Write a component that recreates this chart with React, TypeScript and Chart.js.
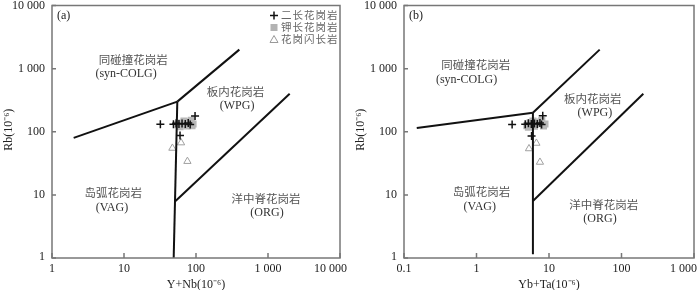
import React, { useEffect, useRef } from "react";
import { Chart, registerables } from "chart.js";
Chart.register(...registerables);

// ---------- shared axis ticks ----------
const yTicks = [1, 10, 100, 1000, 10000];
const yTickLabels = ["1", "10", "100", "1 000", "10 000"];

// ---------- panel (a): Rb vs Y+Nb ----------
const aXTicks = [1, 10, 100, 1000, 10000];
const aXTickLabels = ["1", "10", "100", "1 000", "10 000"];
const aBoundColgVag = [{ x: 2, y: 80 }, { x: 55, y: 300 }];
const aBoundColgWpg = [{ x: 55, y: 300 }, { x: 400, y: 2000 }];
const aBoundVagWpg = [{ x: 55, y: 300 }, { x: 49, y: 1 }];
const aBoundWpgOrg = [{ x: 52, y: 8 }, { x: 2000, y: 400 }];
const aMonzo = [
  { x: 32, y: 132 }, { x: 48.6, y: 132 }, { x: 53, y: 136 }, { x: 58, y: 133 },
  { x: 64, y: 135 }, { x: 71, y: 133 }, { x: 78, y: 137 }, { x: 83, y: 130 },
  { x: 97, y: 178 }, { x: 60, y: 87 },
];
const aKfs = [
  { x: 56, y: 129 }, { x: 62, y: 138 }, { x: 68, y: 148 }, { x: 73, y: 133 },
  { x: 80, y: 143 }, { x: 86, y: 152 }, { x: 91, y: 133 }, { x: 60, y: 120 },
  { x: 75, y: 124 }, { x: 88, y: 125 },
];
const aGrano = [{ x: 47, y: 55 }, { x: 62, y: 67 }, { x: 76, y: 34 }];
const aLabels = [
  { t: "同碰撞花岗岩", x: 13.4, y: 1380, cjk: true },
  { t: "(syn-COLG)", x: 10.7, y: 835, cjk: false },
  { t: "板内花岗岩", x: 354, y: 437, cjk: true },
  { t: "(WPG)", x: 372, y: 255, cjk: false },
  { t: "岛弧花岗岩", x: 7.1, y: 10.7, cjk: true },
  { t: "(VAG)", x: 6.8, y: 6.3, cjk: false },
  { t: "洋中脊花岗岩", x: 938, y: 8.66, cjk: true },
  { t: "(ORG)", x: 968, y: 5.2, cjk: false },
];

// ---------- panel (b): Rb vs Yb+Ta ----------
const bXTicks = [0.1, 1, 10, 100, 1000];
const bXTickLabels = ["0.1", "1", "10", "100", "1 000"];
const bBoundColgVag = [{ x: 0.15, y: 115 }, { x: 6, y: 200 }];
const bBoundColgWpg = [{ x: 6, y: 200 }, { x: 50, y: 2000 }];
const bBoundVagWpg = [{ x: 6, y: 200 }, { x: 6, y: 1.15 }];
const bBoundWpgOrg = [{ x: 6, y: 8 }, { x: 200, y: 400 }];
const bMonzo = [
  { x: 3.1, y: 130 }, { x: 4.7, y: 132 }, { x: 5.2, y: 136 }, { x: 5.7, y: 133 },
  { x: 6.3, y: 135 }, { x: 6.9, y: 133 }, { x: 7.5, y: 137 }, { x: 7.9, y: 130 },
  { x: 8.2, y: 180 }, { x: 5.75, y: 86 },
];
const bKfs = [
  { x: 4.95, y: 125 }, { x: 5.45, y: 138 }, { x: 6.0, y: 148 }, { x: 6.6, y: 133 },
  { x: 7.25, y: 143 }, { x: 7.95, y: 150 }, { x: 8.8, y: 133 }, { x: 5.2, y: 118 },
  { x: 6.3, y: 122 }, { x: 8.4, y: 124 },
];
const bGrano = [{ x: 5.3, y: 54 }, { x: 6.7, y: 66 }, { x: 7.5, y: 33 }];
const bLabels = [
  { t: "同碰撞花岗岩", x: 0.98, y: 1142, cjk: true },
  { t: "(syn-COLG)", x: 0.73, y: 657, cjk: false },
  { t: "板内花岗岩", x: 40, y: 331, cjk: true },
  { t: "(WPG)", x: 43, y: 198, cjk: false },
  { t: "岛弧花岗岩", x: 1.17, y: 11.3, cjk: true },
  { t: "(VAG)", x: 1.11, y: 6.56, cjk: false },
  { t: "洋中脊花岗岩", x: 57, y: 6.98, cjk: true },
  { t: "(ORG)", x: 50.5, y: 4.2, cjk: false },
];

const legendNames = ["二长花岗岩", "钾长花岗岩", "花岗闪长岩"];

const SERIF = '"Liberation Serif", "Noto Sans CJK SC", serif';
const CJK = '"Noto Sans CJK SC", sans-serif';

type PanelCfg = {
  xMin: number; xMax: number;
  xTicks: number[]; xTickLabels: string[];
  bounds: { x: number; y: number }[][];
  monzo: { x: number; y: number }[];
  kfs: { x: number; y: number }[];
  grano: { x: number; y: number }[];
  labels: { t: string; x: number; y: number; cjk: boolean }[];
  tag: string; xTitle: string; legend: boolean;
  padding: { left: number; right: number; top: number; bottom: number };
};

function makeDecor(cfg: PanelCfg) {
  return {
    id: "decor",
    afterDraw(chart: any) {
      const { ctx, chartArea: ca } = chart;
      const W = chart.width;
      const xs = chart.scales.x, ys = chart.scales.y;
      ctx.save();
      // frame
      ctx.strokeStyle = "#777";
      ctx.lineWidth = 1.5;
      ctx.strokeRect(ca.left, ca.top, ca.right - ca.left, ca.bottom - ca.top);
      // ticks (inward)
      ctx.beginPath();
      cfg.xTicks.forEach((v) => {
        const px = xs.getPixelForValue(v);
        ctx.moveTo(px, ca.bottom);
        ctx.lineTo(px, ca.bottom - 5);
      });
      yTicks.forEach((v) => {
        const py = ys.getPixelForValue(v);
        ctx.moveTo(ca.left, py);
        ctx.lineTo(ca.left + 4, py);
      });
      ctx.stroke();
      // tick labels
      ctx.fillStyle = "#222";
      ctx.font = `12px ${SERIF}`;
      ctx.textAlign = "center";
      ctx.textBaseline = "middle";
      cfg.xTicks.forEach((v, i) => {
        const lab = cfg.xTickLabels[i];
        const w = ctx.measureText(lab).width;
        const px = Math.min(xs.getPixelForValue(v), W - 3 - w / 2);
        ctx.fillText(lab, px, ca.bottom + 11);
      });
      ctx.textAlign = "right";
      yTicks.forEach((v, i) => {
        const py = Math.max(ys.getPixelForValue(v), 5.5);
        ctx.fillText(yTickLabels[i], ca.left - 7, Math.min(py, ca.bottom - 1.5));
      });
      // axis titles
      ctx.textAlign = "center";
      ctx.fillText(cfg.xTitle, (ca.left + ca.right) / 2, ca.bottom + 27);
      ctx.save();
      ctx.translate(ca.left - 43, (ca.top + ca.bottom) / 2 - 2);
      ctx.rotate(-Math.PI / 2);
      ctx.fillText("Rb(10⁻⁶)", 0, 0);
      ctx.restore();
      // panel tag
      ctx.textAlign = "left";
      ctx.fillText(cfg.tag, ca.left + 5, ca.top + 10);
      // region labels
      ctx.textAlign = "center";
      cfg.labels.forEach((l) => {
        ctx.fillStyle = l.cjk ? "#555" : "#333";
        ctx.font = l.cjk ? `11.5px ${CJK}` : `12px ${SERIF}`;
        ctx.fillText(l.t, xs.getPixelForValue(l.x), ys.getPixelForValue(l.y));
      });
      // legend
      if (cfg.legend) {
        const lx = ca.right - 66;
        const rows = [ca.top + 10, ca.top + 22, ca.top + 34];
        // plus
        ctx.strokeStyle = "#111";
        ctx.lineWidth = 1.5;
        ctx.beginPath();
        ctx.moveTo(lx - 4, rows[0]); ctx.lineTo(lx + 4, rows[0]);
        ctx.moveTo(lx, rows[0] - 4); ctx.lineTo(lx, rows[0] + 4);
        ctx.stroke();
        // square
        ctx.fillStyle = "#b3b3b3";
        ctx.fillRect(lx - 3.5, rows[1] - 3.5, 7, 7);
        // triangle
        ctx.strokeStyle = "#999";
        ctx.lineWidth = 1;
        ctx.beginPath();
        ctx.moveTo(lx, rows[2] - 4);
        ctx.lineTo(lx + 4, rows[2] + 3);
        ctx.lineTo(lx - 4, rows[2] + 3);
        ctx.closePath();
        ctx.stroke();
        ctx.fillStyle = "#666";
        ctx.font = `10.5px ${CJK}`;
        ctx.letterSpacing = "1px";
        ctx.textAlign = "left";
        legendNames.forEach((n, i) => ctx.fillText(n, lx + 7, rows[i]));
        ctx.letterSpacing = "0px";
      }
      ctx.restore();
    },
  };
}

function Panel({ cfg, left }: { cfg: PanelCfg; left: number }) {
  const ref = useRef<HTMLCanvasElement>(null);
  useEffect(() => {
    const lineDs = cfg.bounds.map((b) => ({
      type: "scatter" as const,
      data: b,
      showLine: true,
      borderColor: "#111",
      borderWidth: 2,
      pointRadius: 0,
      order: 1,
    }));
    const chart = new Chart(ref.current!, {
      type: "scatter",
      data: {
        datasets: [
          {
            data: cfg.monzo, pointStyle: "cross", pointRadius: 4,
            borderColor: "#111", borderWidth: 1.5, order: 0,
          },
          ...lineDs,
          {
            data: cfg.grano, pointStyle: "triangle", pointRadius: 4.2,
            borderColor: "#a0a0a0", backgroundColor: "rgba(0,0,0,0)", borderWidth: 1, order: 2,
          },
          {
            data: cfg.kfs, pointStyle: "rect", pointRadius: 5,
            borderWidth: 0, backgroundColor: "#b8b8b8", order: 3,
          },
        ] as any,
      },
      options: {
        animation: false,
        responsive: false,
        events: [],
        layout: { padding: cfg.padding },
        plugins: { legend: { display: false }, tooltip: { enabled: false } },
        scales: {
          x: { type: "logarithmic", min: cfg.xMin, max: cfg.xMax, display: false },
          y: { type: "logarithmic", min: 1, max: 10000, display: false },
        },
      },
      plugins: [makeDecor(cfg)],
    });
    return () => chart.destroy();
  }, []);
  return (
    <canvas
      ref={ref}
      width={350}
      height={290}
      style={{ position: "absolute", left, top: 0, width: 350, height: 290 }}
    />
  );
}

const cfgA: PanelCfg = {
  xMin: 1, xMax: 10000, xTicks: aXTicks, xTickLabels: aXTickLabels,
  bounds: [aBoundColgVag, aBoundColgWpg, aBoundVagWpg, aBoundWpgOrg],
  monzo: aMonzo, kfs: aKfs, grano: aGrano, labels: aLabels,
  tag: "(a)", xTitle: "Y+Nb(10⁻⁶)", legend: true,
  padding: { left: 52, right: 10, top: 3, bottom: 32 },
};
const cfgB: PanelCfg = {
  xMin: 0.1, xMax: 1000, xTicks: bXTicks, xTickLabels: bXTickLabels,
  bounds: [bBoundColgVag, bBoundColgWpg, bBoundVagWpg, bBoundWpgOrg],
  monzo: bMonzo, kfs: bKfs, grano: bGrano, labels: bLabels,
  tag: "(b)", xTitle: "Yb+Ta(10⁻⁶)", legend: false,
  padding: { left: 54, right: 6, top: 3, bottom: 32 },
};

export default function App() {
  return (
    <div style={{ position: "absolute", left: 0, top: 0, width: 700, height: 290, background: "#fff" }}>
      <Panel cfg={cfgA} left={0} />
      <Panel cfg={cfgB} left={350} />
    </div>
  );
}
